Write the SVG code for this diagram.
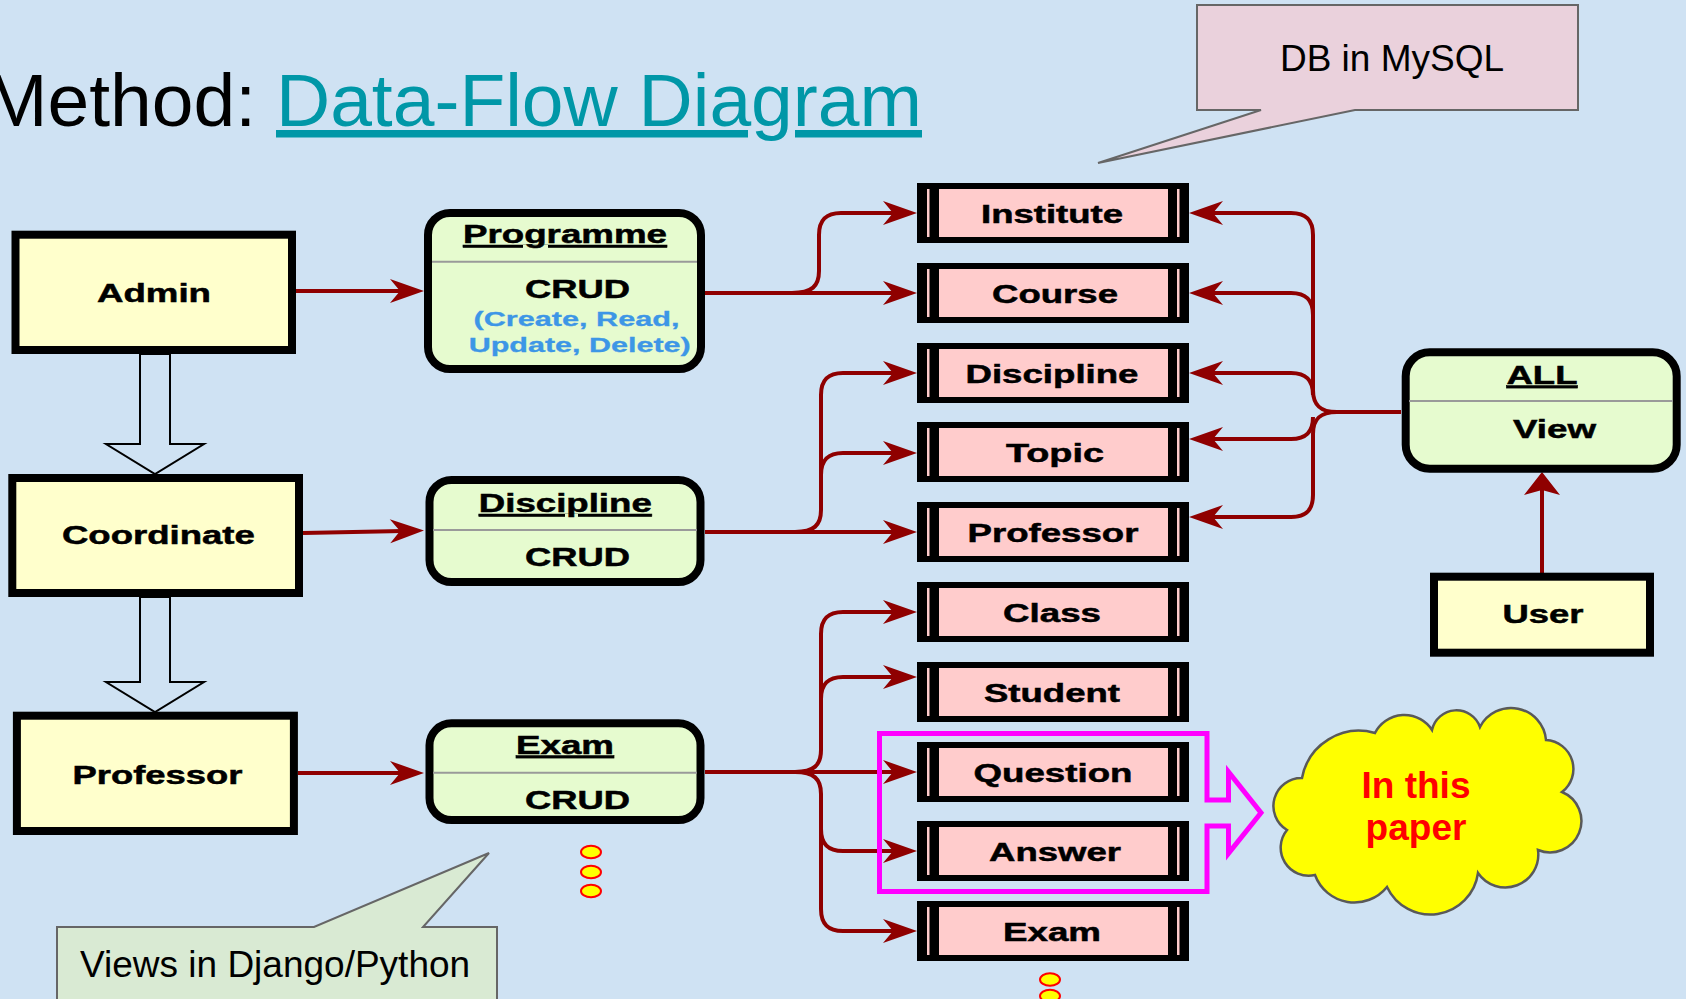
<svg xmlns="http://www.w3.org/2000/svg" xmlns:xlink="http://www.w3.org/1999/xlink" width="1686" height="999" viewBox="0 0 1686 999">
<style>
.lb{font-family:"Liberation Sans",Arial,sans-serif;font-weight:bold;font-size:26px;fill:#000;stroke:#000;stroke-width:0.5px;text-anchor:middle}
.bl{font-family:"Liberation Sans",Arial,sans-serif;font-weight:bold;font-size:21px;fill:#3d96e6;stroke:#3d96e6;stroke-width:0.3px;text-anchor:middle}
.ul{text-decoration:underline}
.act{fill:#ffffcc;stroke:#000;stroke-width:8}
.proc{fill:#e6fbcf;stroke:#000;stroke-width:8}
.div{stroke:#9a9a9a;stroke-width:2}
.cn{fill:none;stroke:#8f0000;stroke-width:4;marker-end:url(#ah)}
.cnp{fill:none;stroke:#8f0000;stroke-width:4}
.dot{fill:#ffff00;stroke:#ff0000;stroke-width:2}
.hollow{fill:#cfe2f3;stroke:#000;stroke-width:2}
</style>
<defs>
<marker id="ah" markerUnits="userSpaceOnUse" viewBox="-11 -13 36 26" refX="3" refY="0" markerWidth="36" markerHeight="26" orient="auto">
<path d="M24,0 L-10,-12 L0,0 L-10,12 Z" fill="#8f0000"/>
</marker>
<marker id="ahb" markerUnits="userSpaceOnUse" viewBox="-6 -19 25 38" refX="3" refY="0" markerWidth="25" markerHeight="38" orient="auto">
<path d="M18,0 L-5,-18 L0,0 L-5,18 Z" fill="#8f0000"/>
</marker>
<g id="tblshape">
<rect x="0" y="0" width="272" height="60" fill="#000"/>
<rect x="22" y="6" width="229" height="48" fill="#ffcccc"/>
<rect x="10" y="6" width="2.5" height="48" fill="#ffcccc"/>
<rect x="260" y="6" width="2.5" height="48" fill="#ffcccc"/>
</g>
</defs>
<rect x="0" y="0" width="1686" height="999" fill="#cfe2f3"/>

<g id="title">
<text x="-15" y="126" font-family="'Liberation Sans',Arial,sans-serif" font-size="75" fill="#000">Method:</text>
<text x="276" y="126" font-family="'Liberation Sans',Arial,sans-serif" font-size="75" fill="#0097a7" text-decoration="underline">Data-Flow Diagram</text>
</g>

<g id="callout-db">
<path d="M1197,5 L1578,5 L1578,110 L1355,110 L1098,163 L1261,110 L1197,110 Z" fill="#ead1dc" stroke="#666" stroke-width="2"/>
<text x="1392" y="71" font-family="'Liberation Sans',Arial,sans-serif" font-size="37" fill="#000" text-anchor="middle">DB in MySQL</text>
</g>

<g id="callout-views">
<path d="M57,927 L314,927 L489,853 L423,927 L497,927 L497,1010 L57,1010 Z" fill="#d9ead3" stroke="#666" stroke-width="2"/>
<text x="80" y="977" font-family="'Liberation Sans',Arial,sans-serif" font-size="37" fill="#000">Views in Django/Python</text>
</g>

<g id="hollow-arrows">
<polygon class="hollow" points="140,354 170,354 170,444 204,444 155,474 106,444 140,444"/>
<polygon class="hollow" points="140,597 170,597 170,682 204,682 155,712 106,682 140,682"/>
</g>

<g id="connectors">
<path class="cn" d="M296,291 L403,291"/>
<path class="cn" d="M303,533 L403,531"/>
<path class="cn" d="M298,773 L403,773"/>
<path class="cn" d="M705,293 L896,293"/>
<path class="cn" d="M792,293 C812,293 819,286 819,271 L819,235 C819,220 826,213 841,213 L896,213"/>
<path class="cn" d="M705,532 L896,532"/>
<path class="cn" d="M795,532 C814,532 821,525 821,510 L821,395 C821,380 828,373 843,373 L896,373"/>
<path class="cn" d="M821,475 C821,460 828,453 843,453 L896,453"/>
<path class="cn" d="M705,772 L896,772"/>
<path class="cn" d="M795,772 C814,772 821,765 821,750 L821,634 C821,619 828,612 843,612 L896,612"/>
<path class="cn" d="M821,699 C821,684 828,677 843,677 L896,677"/>
<path class="cn" d="M795,772 C814,772 821,779 821,794 L821,909 C821,924 828,931 843,931 L896,931"/>
<path class="cn" d="M821,829 C821,844 828,851 843,851 L896,851"/>
<path class="cn" d="M1401,412 L1337,412 C1320,412 1313,405 1313,390 L1313,235 C1313,220 1306,213 1291,213 L1210,213"/>
<path class="cn" d="M1337,412 C1320,412 1313,419 1313,434 L1313,495 C1313,510 1306,517 1291,517 L1210,517"/>
<path class="cn" d="M1313,315 C1313,300 1306,293 1291,293 L1210,293"/>
<path class="cn" d="M1313,395 C1313,380 1306,373 1291,373 L1210,373"/>
<path class="cn" d="M1313,417 C1313,432 1306,439 1291,439 L1210,439"/>
<path class="cnp" d="M1542,573 L1542,487" marker-end="url(#ahb)"/>
</g>

<g id="admin">
<rect class="act" x="15.5" y="234.7" width="276.5" height="115.3"/>
<text class="lb" x="154" y="302" textLength="114" lengthAdjust="spacingAndGlyphs">Admin</text>
</g>
<g id="coordinate">
<rect class="act" x="12.3" y="478" width="286.7" height="115"/>
<text class="lb" x="158.4" y="544" textLength="193" lengthAdjust="spacingAndGlyphs">Coordinate</text>
</g>
<g id="professor-actor">
<rect class="act" x="16.9" y="715.7" width="277" height="115.3"/>
<text class="lb" x="157.5" y="784" textLength="170" lengthAdjust="spacingAndGlyphs">Professor</text>
</g>
<g id="user">
<rect class="act" x="1434" y="576.7" width="216" height="76"/>
<text class="lb" x="1543" y="623" textLength="81" lengthAdjust="spacingAndGlyphs">User</text>
</g>

<g id="proc-programme">
<rect class="proc" x="428" y="213" width="273" height="156" rx="22"/>
<line class="div" x1="432" y1="261.7" x2="697" y2="261.7"/>
<text class="lb ul" x="565" y="243" textLength="204" lengthAdjust="spacingAndGlyphs">Programme</text>
<text class="lb" x="577.5" y="298" textLength="105" lengthAdjust="spacingAndGlyphs">CRUD</text>
<text class="bl" x="576.5" y="326" textLength="206" lengthAdjust="spacingAndGlyphs">(Create, Read,</text>
<text class="bl" x="579.7" y="352" textLength="222" lengthAdjust="spacingAndGlyphs">Update, Delete)</text>
</g>
<g id="proc-discipline">
<rect class="proc" x="429.5" y="480" width="271" height="102" rx="22"/>
<line class="div" x1="433" y1="530" x2="697" y2="530"/>
<text class="lb ul" x="565.3" y="512" textLength="173" lengthAdjust="spacingAndGlyphs">Discipline</text>
<text class="lb" x="577.5" y="566" textLength="105" lengthAdjust="spacingAndGlyphs">CRUD</text>
</g>
<g id="proc-exam">
<rect class="proc" x="429.5" y="723.3" width="271" height="96.7" rx="22"/>
<line class="div" x1="433" y1="772.7" x2="697" y2="772.7"/>
<text class="lb ul" x="565" y="753.5" textLength="98" lengthAdjust="spacingAndGlyphs">Exam</text>
<text class="lb" x="577.5" y="808.5" textLength="105" lengthAdjust="spacingAndGlyphs">CRUD</text>
</g>
<g id="proc-all">
<rect class="proc" x="1405.7" y="352.3" width="271" height="116.4" rx="24"/>
<line class="div" x1="1409" y1="401" x2="1673" y2="401"/>
<text class="lb ul" x="1542" y="383.5" textLength="71" lengthAdjust="spacingAndGlyphs">ALL</text>
<text class="lb" x="1554.5" y="437.5" textLength="83" lengthAdjust="spacingAndGlyphs">View</text>
</g>

<g id="tbl-institute"><use xlink:href="#tblshape" transform="translate(917,183)"/><text class="lb" x="1052" y="222.5" textLength="142" lengthAdjust="spacingAndGlyphs">Institute</text></g>
<g id="tbl-course"><use xlink:href="#tblshape" transform="translate(917,263)"/><text class="lb" x="1055" y="302.5" textLength="126" lengthAdjust="spacingAndGlyphs">Course</text></g>
<g id="tbl-discipline"><use xlink:href="#tblshape" transform="translate(917,343)"/><text class="lb" x="1052" y="382.5" textLength="173" lengthAdjust="spacingAndGlyphs">Discipline</text></g>
<g id="tbl-topic"><use xlink:href="#tblshape" transform="translate(917,422)"/><text class="lb" x="1055" y="461.5" textLength="98" lengthAdjust="spacingAndGlyphs">Topic</text></g>
<g id="tbl-professor"><use xlink:href="#tblshape" transform="translate(917,502)"/><text class="lb" x="1053" y="541.5" textLength="171" lengthAdjust="spacingAndGlyphs">Professor</text></g>
<g id="tbl-class"><use xlink:href="#tblshape" transform="translate(917,582)"/><text class="lb" x="1052" y="621.5" textLength="98" lengthAdjust="spacingAndGlyphs">Class</text></g>
<g id="tbl-student"><use xlink:href="#tblshape" transform="translate(917,662)"/><text class="lb" x="1052" y="701.5" textLength="136" lengthAdjust="spacingAndGlyphs">Student</text></g>
<g id="tbl-question"><use xlink:href="#tblshape" transform="translate(917,742)"/><text class="lb" x="1053" y="781.5" textLength="159" lengthAdjust="spacingAndGlyphs">Question</text></g>
<g id="tbl-answer"><use xlink:href="#tblshape" transform="translate(917,821)"/><text class="lb" x="1055" y="860.5" textLength="132" lengthAdjust="spacingAndGlyphs">Answer</text></g>
<g id="tbl-exam"><use xlink:href="#tblshape" transform="translate(917,901)"/><text class="lb" x="1052" y="940.5" textLength="98" lengthAdjust="spacingAndGlyphs">Exam</text></g>

<g id="highlight">
<path d="M879.5,733.5 L1207,733.5 L1207,800 L1228.5,800 L1228.5,772 L1261,812.7 L1228.5,853.3 L1228.5,826 L1207,826 L1207,891.5 L879.5,891.5 Z" fill="none" stroke="#ff00ff" stroke-width="5" stroke-linejoin="miter"/>
</g>

<g id="cloud">
<path d="M1302,778 A58,58 0 0 1 1375,733 A33,33 0 0 1 1432,730 A25,25 0 0 1 1480,727 A35,35 0 0 1 1546,740 A29,29 0 0 1 1562,792 A31,31 0 0 1 1538,850 A33,33 0 0 1 1478,873 A48,48 0 0 1 1387,887 A42,42 0 0 1 1315,875 A28,28 0 0 1 1287,830 A28,28 0 0 1 1302,778 Z" fill="#ffff00" stroke="#595959" stroke-width="2.5"/>
<text x="1416" y="798" font-family="'Liberation Sans',Arial,sans-serif" font-size="37" font-weight="bold" fill="#ff0000" text-anchor="middle">In this</text>
<text x="1416" y="840" font-family="'Liberation Sans',Arial,sans-serif" font-size="37" font-weight="bold" fill="#ff0000" text-anchor="middle">paper</text>
</g>

<g id="dots">
<ellipse class="dot" cx="591" cy="852" rx="10" ry="6.3"/>
<ellipse class="dot" cx="591" cy="872" rx="10" ry="6.3"/>
<ellipse class="dot" cx="591" cy="891" rx="10" ry="6.3"/>
<ellipse class="dot" cx="1050" cy="979.5" rx="10" ry="6.3"/>
<ellipse class="dot" cx="1050" cy="996" rx="10" ry="6.3"/>
</g>
</svg>
